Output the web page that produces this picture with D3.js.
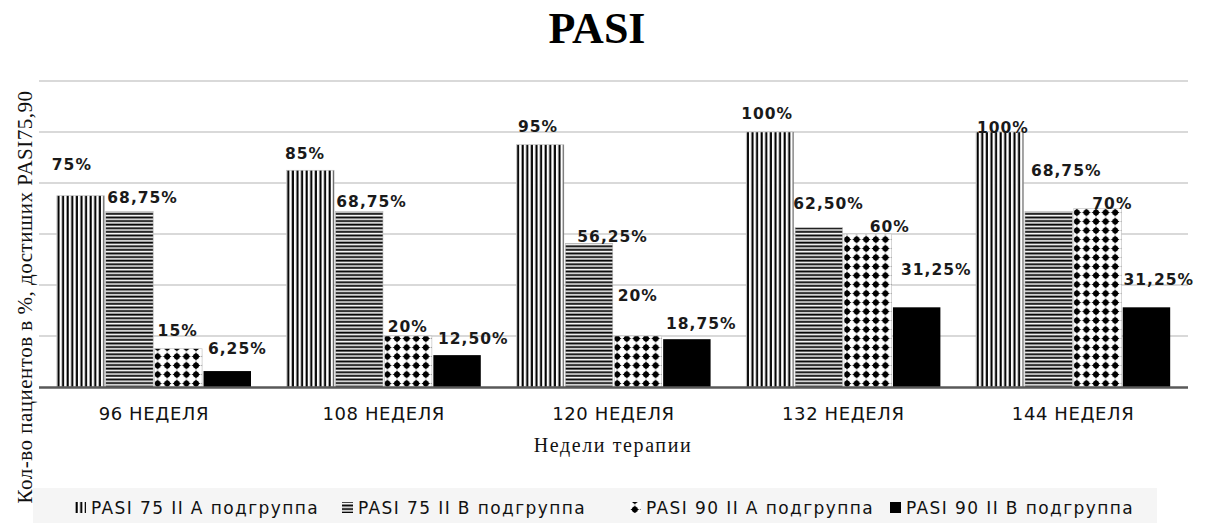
<!DOCTYPE html>
<html><head><meta charset="utf-8">
<script src="https://cdn.jsdelivr.net/npm/d3@7"></script>
<style>html,body{margin:0;padding:0;background:#fff;}svg{display:block;}</style>
</head><body>
<svg id="chart" width="1207" height="523"></svg>
<script>
const categories = ["96 НЕДЕЛЯ", "108 НЕДЕЛЯ", "120 НЕДЕЛЯ", "132 НЕДЕЛЯ", "144 НЕДЕЛЯ"];
const seriesNames = ["PASI 75 II A подгруппа", "PASI 75 II B подгруппа", "PASI 90 II A подгруппа", "PASI 90 II B подгруппа"];
const pasi75A = [75, 85, 95, 100, 100];
const pasi75B = [68.75, 68.75, 56.25, 62.5, 68.75];
const pasi90A = [15, 20, 20, 60, 70];
const pasi90B = [6.25, 12.5, 18.75, 31.25, 31.25];
const valueLabels = [
  ["75%", "85%", "95%", "100%", "100%"],
  ["68,75%", "68,75%", "56,25%", "62,50%", "68,75%"],
  ["15%", "20%", "20%", "60%", "70%"],
  ["6,25%", "12,50%", "18,75%", "31,25%", "31,25%"]
];
const yTicks = [0, 20, 40, 60, 80, 100, 120];
// label nudges [dx, dy] relative to default (bar-left, above bar top)
const labelNudge = [
  [[-5,-17.5],[-1.6,-3],[1.6,-4.5],[-5,-5.5],[1,8.5]],
  [[1.6,-0.5],[0.8,3.5],[12,6.6],[-1.8,-10.4],[6,-27.8]],
  [[3,-4.7],[3.2,4],[3.4,-27],[25.6,6],[18.5,8.5]],
  [[4.4,-9],[4.6,-3],[2.8,-2],[8,-24],[0.8,-14]]
];

const seriesValues = [pasi75A, pasi75B, pasi90A, pasi90B];
const svg = d3.select("#chart");
const defs = svg.append("defs");

// patterns
const pv = defs.append("pattern").attr("id","pv").attr("patternUnits","userSpaceOnUse").attr("width",4.6).attr("height",10);
pv.append("rect").attr("width",4.6).attr("height",10).attr("fill","#fff");
pv.append("rect").attr("x",0.6).attr("width",2.1).attr("height",10).attr("fill","#000");
const ph = defs.append("pattern").attr("id","ph").attr("patternUnits","userSpaceOnUse").attr("width",10).attr("height",3.6);
ph.append("rect").attr("width",10).attr("height",3.6).attr("fill","#fff");
ph.append("rect").attr("y",0.5).attr("width",10).attr("height",1.9).attr("fill","#000");
const pd = defs.append("pattern").attr("id","pd").attr("patternUnits","userSpaceOnUse").attr("width",9.6).attr("height",9).attr("y",1);
pd.append("rect").attr("width",9.6).attr("height",9).attr("fill","#fff");
pd.append("path").attr("d","M4.8,0 Q5.6,3.2 9.2,4.5 Q5.6,5.8 4.8,9 Q4,5.8 0.4,4.5 Q4,3.2 4.8,0 Z").attr("fill","#000");
pd.append("circle").attr("cx",4.8).attr("cy",4.5).attr("r",2.9).attr("fill","#000");
const fills = ["url(#pv)","url(#ph)","url(#pd)","#000"];

const x0 = d3.scaleBand().domain(categories).range([39,1188]).paddingInner(0.155).paddingOuter(0.0775);
const x1 = d3.scaleBand().domain(d3.range(seriesNames.length)).range([0, x0.bandwidth()]).paddingInner(0.03).paddingOuter(0);
const y = d3.scaleLinear().domain([0,120]).range([387,81]);

// title
svg.append("text").attr("x",597).attr("y",43).attr("text-anchor","middle")
  .attr("font-family","Liberation Serif, Times New Roman, serif").attr("font-weight","bold").attr("font-size",44).text("PASI");

// gridlines
svg.append("g").selectAll("line").data(yTicks.slice(1)).join("line")
  .attr("x1",39).attr("x2",1188).attr("y1",d=>y(d)).attr("y2",d=>y(d))
  .attr("stroke","#d9d9d9").attr("stroke-width",2);

// bars
const groups = svg.append("g").selectAll("g").data(categories).join("g")
  .attr("transform", c => `translate(${x0(c)},0)`);
groups.each(function(c, ci){
  const g = d3.select(this);
  seriesValues.forEach((vals, si) => {
    g.append("rect").attr("x", x1(si)).attr("y", y(vals[ci]))
      .attr("width", x1.bandwidth()).attr("height", y(0) - y(vals[ci]))
      .attr("fill", fills[si]).attr("stroke", si===3 ? "#000" : "#bbb").attr("stroke-width", si===3?0:0.6);
  });
});

// baseline
svg.append("line").attr("x1",39).attr("x2",1188).attr("y1",y(0)+0.5).attr("y2",y(0)+0.5)
  .attr("stroke","#595959").attr("stroke-width",2.5);

// data labels
groups.each(function(c, ci){
  const g = d3.select(this);
  seriesValues.forEach((vals, si) => {
    const [dx, dy] = labelNudge[si][ci];
    g.append("text").attr("x", x1(si) + dx).attr("y", y(vals[ci]) - 8 + dy)
      .attr("font-family","DejaVu Sans, Verdana, sans-serif").attr("font-weight","bold")
      .attr("font-size",15.5).attr("letter-spacing",1).attr("fill","#1a1a1a")
      .text(valueLabels[si][ci]);
  });
});

// x axis tick labels
const xAxis = d3.axisBottom(x0).tickSize(0).tickPadding(0);
const xa = svg.append("g").attr("transform",`translate(0,${y(0)})`).call(xAxis);
xa.select(".domain").remove();
xa.selectAll("text").attr("dy",0).attr("y",33)
  .attr("font-family","DejaVu Sans, sans-serif").attr("font-size",18).attr("letter-spacing",0.6).attr("fill","#111");

// axis titles
svg.append("text").attr("x",613).attr("y",452).attr("text-anchor","middle")
  .attr("font-family","Liberation Serif, Times New Roman, serif").attr("font-size",20).attr("letter-spacing",1.6).attr("fill","#111")
  .text("Недели терапии");
svg.append("text").attr("transform","translate(32,297) rotate(-90)").attr("text-anchor","middle")
  .attr("font-family","Liberation Serif, Times New Roman, serif").attr("font-size",21).attr("letter-spacing",0.5).attr("fill","#111")
  .text("Кол-во пациентов в %, достиших PASI75,90");

// legend
const leg = svg.append("g");
leg.append("rect").attr("x",33).attr("y",488).attr("width",1124).attr("height",35).attr("fill","#f5f5f5");
const legX = [75, 342, 630, 890];
seriesNames.forEach((name, i) => {
  const it = leg.append("g").attr("transform",`translate(${legX[i]},0)`);
  it.append("rect").attr("x",0).attr("y",502).attr("width",11).attr("height",11).attr("fill",fills[i]);
  it.append("text").attr("x",16).attr("y",514)
    .attr("font-family","DejaVu Sans, sans-serif").attr("font-size",17).attr("letter-spacing",1.4).attr("fill","#111").text(name);
});
</script>
</body></html>
